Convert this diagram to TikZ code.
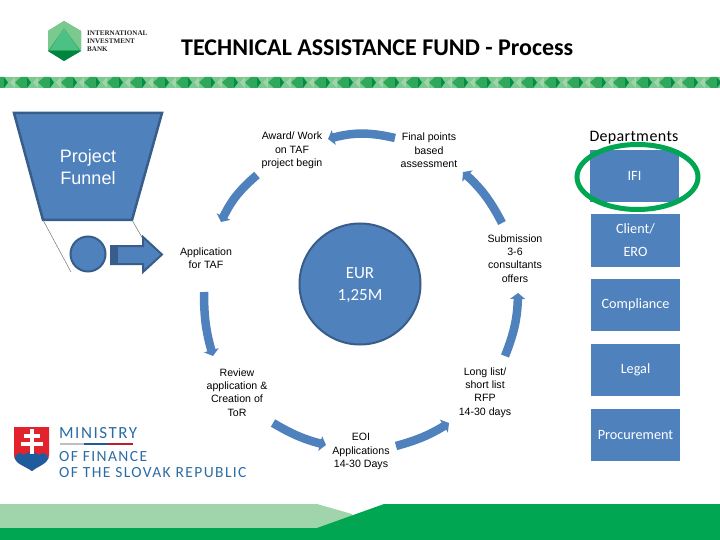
\documentclass[tikz,border=0pt]{standalone}
\usepackage{fontspec}
\setmainfont{Liberation Sans}
\newfontfamily\carl{Carlito}
\newfontfamily\carlw[LetterSpace=9]{Carlito}
\newfontfamily\ifont{Liberation Serif}
\usetikzlibrary{arrows.meta,shapes.geometric}
\definecolor{bluefill}{HTML}{4F81BD}
\definecolor{blueedge}{HTML}{385D8A}
\definecolor{igreen}{HTML}{00A651}
\definecolor{lgreen}{HTML}{A0D5AC}
\definecolor{mgreen}{HTML}{2FA85C}
\definecolor{pgreen}{HTML}{7CC98F}
\definecolor{minblue}{HTML}{2B6CA3}
\definecolor{shieldblue}{HTML}{1F5C9E}
\definecolor{shieldred}{HTML}{E2232E}
\tikzset{
  lab/.style={font=\fontsize{10.6}{13.4}\selectfont,align=center,text=black,inner sep=0pt},
  cyc/.style={draw=bluefill,line width=8.5pt,-{Triangle[length=6pt,width=15pt]},shorten >=0pt},
  dept/.style={fill=bluefill,minimum width=89pt,minimum height=52pt,inner sep=0pt,text=white,
     font=\carl\fontsize{14.2}{23}\selectfont,align=center},
  minist/.style={inner sep=0pt,anchor=base west,text=minblue}
}
\begin{document}
\begin{tikzpicture}[x=1pt,y=-1pt]
\useasboundingbox (0,0) rectangle (720,540);
% IIB logo
\fill[mgreen] (64,21) -- (81,31) -- (81,51) -- (64,61) -- (48,51) -- (48,31) -- cycle;
\fill[pgreen] (64,21) -- (81,31) -- (81,51) -- (64,28) -- (48,51) -- (48,31) -- cycle;
\fill[igreen!80!black] (48,51) -- (81,51) -- (64,61) -- cycle;
\fill[igreen!70!white] (64,28) -- (79,50) -- (50,50) -- cycle;
\node[inner sep=0pt,anchor=west,align=left,text=black!85,font=\ifont\bfseries\fontsize{7.1}{7.8}\selectfont] (iib) at (87,41) {INTERNATIONAL\\INVESTMENT\\BANK};
% title
\node[inner sep=0pt,anchor=west,font=\carl\bfseries\fontsize{24}{26}\selectfont] (title) at (181,48) {TECHNICAL ASSISTANCE FUND - Process};
% band
\fill[pgreen] (0,77) rectangle (720,88);
\foreach \i in {0,...,31}{
  \pgfmathsetmacro{\xx}{\i*23-8}
  \fill[mgreen] (\xx,82.5) -- (\xx+6,77) -- (\xx+12,77) -- (\xx+12,88) -- (\xx+6,88) -- cycle;
  \fill[igreen!85!black] (\xx+12,77) -- (\xx+16,82.5) -- (\xx+12,88) -- cycle;
  \fill[lgreen] (\xx+18,82.5) -- (\xx+23,77) -- (\xx+23,88) -- cycle;
}
% funnel
\path[fill=bluefill,draw=blueedge,line width=2.5pt,line join=miter] (14,113) -- (162,113) -- (132,220) -- (43,220) -- cycle;
\node[font=\fontsize{18}{22}\selectfont,text=white,align=center,inner sep=0pt] (funnel) at (88,167) {Project\\Funnel};
\coordinate (fl) at (43,220); \coordinate (fl2) at (71,272);
\coordinate (fr) at (132,220); \coordinate (fr2) at (147,246);
\draw[black!55,line width=.5pt] (fl) -- (fl2);
\draw[black!55,line width=.5pt] (fr) -- (fr2);
\node[circle,fill=bluefill,draw=blueedge,line width=2pt,minimum size=35pt,inner sep=0pt] (ball) at (88,254) {};
\path[fill=bluefill,draw=blueedge,line width=2pt,line join=miter] (111,246) -- (143,246) -- (143,237) -- (162,254.5) -- (143,272) -- (143,264) -- (111,264) -- cycle;
\fill[blueedge] (110,245) rectangle (118,265);
% centre
\node[circle,fill=bluefill,draw=blueedge,line width=2pt,minimum size=121pt,inner sep=0pt] (fund) at (360,284) {};
\node[text=white,font=\carl\fontsize{17}{22}\selectfont,align=center,inner sep=0pt] (fundtext) at (360,285) {EUR\\1,25M};
% labels
\node[lab] (award) at (292,150.5) {Award/ Work\\on TAF\\project begin};
\node[lab] (final) at (429,150.5) {Final points\\based\\assessment};
\node[lab] (appl) at (206,258) {Application\\for TAF};
\node[lab] (subm) at (515,258.5) {Submission\\3-6\\consultants\\offers};
\node[lab] (review) at (237,392.5) {Review\\application \&\\Creation of\\ToR};
\node[lab] (eoi) at (361,451.5) {EOI\\Applications\\14-30 Days};
\node[lab] (long) at (485,392.5) {Long list/\\short list\\RFP\\14-30 days};
% cycle arrows
\coordinate (a1s) at (395,138); \coordinate (a1e) at (328,139);
\coordinate (a2s) at (257,175); \coordinate (a2e) at (221,222);
\coordinate (a3s) at (204,292); \coordinate (a3e) at (213,356);
\coordinate (a4s) at (273,423); \coordinate (a4e) at (326,445);
\coordinate (a5s) at (396,446); \coordinate (a5e) at (449,423);
\coordinate (a6s) at (505,356); \coordinate (a6e) at (518,293);
\coordinate (a7s) at (502,223); \coordinate (a7e) at (463,172);
\draw[cyc] (a1s) to[bend right=14] (a1e);
\draw[cyc] (a2s) to[bend right=12] (a2e);
\draw[cyc] (a3s) to[bend right=8] (a3e);
\draw[cyc] (a4s) to[bend right=8] (a4e);
\draw[cyc] (a5s) to[bend right=8] (a5e);
\draw[cyc] (a6s) to[bend right=10] (a6e);
\draw[cyc] (a7s) to[bend right=10] (a7e);
% departments
\node[inner sep=0pt,font=\carl\fontsize{16}{18}\selectfont] (dep) at (634,138) {D\hspace{.3pt}e\hspace{.3pt}p\hspace{.3pt}a\hspace{.3pt}r\hspace{.3pt}t\hspace{.3pt}m\hspace{.6pt}e\hspace{.3pt}n\hspace{.3pt}t\hspace{.3pt}s};
\node[dept] (ifi) at (634.5,176) {IFI};
\node[dept] (client) at (635.5,240.5) {Client/\\ERO};
\node[dept] (compl) at (635.5,305) {Compliance};
\node[dept] (legal) at (635.5,370) {\raisebox{1pt}{Legal}};
\node[dept] (proc) at (635.5,434.5) {Procurement};
\node[ellipse,draw=igreen,line width=5pt,minimum width=121pt,minimum height=65pt,inner sep=0pt] (ring) at (637.5,177) {};
% ministry logo
\path[fill=shieldred] (14,427) -- (49,427) -- (49,455) .. controls (49,463) and (38,466) .. (32,471) .. controls (25,466) and (14,463) .. (14,455) -- cycle;
\path[fill=shieldblue] (14.5,458) .. controls (18,452) and (21,452) .. (24,455) .. controls (28,451) and (35,451) .. (39,455) .. controls (42,452) and (46,452) .. (48.5,458) .. controls (47,464) and (38,466) .. (32,471) .. controls (25,466) and (16,464) .. (14.5,458) -- cycle;
\fill[white] (30,429) rectangle (34,454);
\fill[white] (24,434) rectangle (40,437.5);
\fill[white] (21,442) rectangle (43,446);
\node[minist,font=\carlw\fontsize{17}{18}\selectfont] (min1) at (59,438) {MINISTRY};
\fill[black!25] (60,442.5) rectangle (84,444.5);
\fill[shieldblue] (84,442.5) rectangle (108,444.5);
\fill[shieldred!85!black] (108,442.5) rectangle (133,444.5);
\node[minist,font=\carlw\fontsize{15.5}{16}\selectfont] (min2) at (59,461) {OF FINANCE};
\node[minist,font=\carlw\fontsize{15.5}{16}\selectfont] (min3) at (59,477) {OF THE SLOVAK REPUBLIC};
% footer
\fill[lgreen] (0,504) -- (317,504) -- (352,514) -- (352,530) -- (0,530) -- cycle;
\fill[igreen] (0,528) -- (317,528) -- (384,504) -- (720,504) -- (720,540) -- (0,540) -- cycle;
\end{tikzpicture}
\end{document}
